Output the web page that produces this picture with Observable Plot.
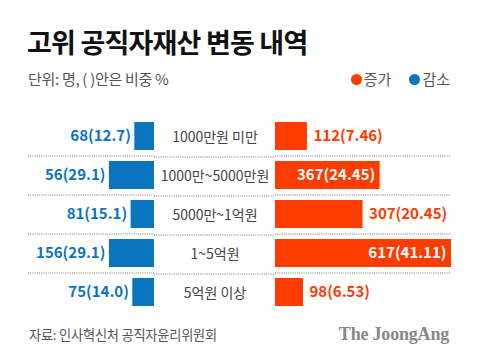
<!DOCTYPE html>
<html>
<head>
<meta charset="utf-8">
<script src="https://cdn.jsdelivr.net/npm/d3@7"></script>
<script src="https://cdn.jsdelivr.net/npm/@observablehq/plot@0.6"></script>
<style>
  html, body { margin: 0; padding: 0; background: #fff; }
  #wrap { position: relative; width: 480px; height: 364px; overflow: hidden; background: #fff; font-family: "Noto Sans CJK KR", "Noto Sans", sans-serif; }
  .abs { position: absolute; white-space: nowrap; }
  #title { left: 27px; top: 27px; font-size: 27px; line-height: 30px; font-weight: 700; color: #111; letter-spacing: -0.8px; }
  #sub { left: 28px; top: 69px; font-size: 15px; line-height: 20px; color: #555; letter-spacing: -0.3px; }
  #legend { right: 30px; top: 69px; font-size: 15px; line-height: 20px; color: #555; display: flex; align-items: center; }
  #legend .dot { width: 11px; height: 11px; border-radius: 50%; display: inline-block; margin-right: 2px; }
  #legend .item { display: flex; align-items: center; margin-left: 18px; }
  #source { left: 29px; top: 325px; font-size: 13.2px; line-height: 20px; color: #555; letter-spacing: -0.2px; }
  #brand { right: 31px; top: 323px; font-family: "Liberation Serif", "DejaVu Serif", serif; font-weight: 700; font-size: 18px; line-height: 22px; color: #888; letter-spacing: -0.2px; }
  #pl, #pm, #pr { position: absolute; top: 116.5px; }
  #pl { left: 0; } #pm { left: 154px; } #pr { left: 275px; }
  svg { overflow: visible; }
</style>
</head>
<body>
<div id="wrap">
  <div id="title" class="abs">고위 공직자재산 변동 내역</div>
  <div id="sub" class="abs">단위: 명, (&nbsp;)안은 비중 %</div>
  <div id="legend" class="abs"></div>
  <div id="pl"></div><div id="pm"></div><div id="pr"></div>
  <div id="source" class="abs">자료: 인사혁신처 공직자윤리위원회</div>
  <div id="brand" class="abs">The JoongAng</div>
</div>
<script>
const categories = ["1000만원 미만", "1000만~5000만원", "5000만~1억원", "1~5억원", "5억원 이상"];
const increaseCount = [112, 367, 307, 617, 98];
const increasePct = [7.46, 24.45, 20.45, 41.11, 6.53];
const decreaseCount = [68, 56, 81, 156, 75];
const decreasePct = [12.7, 29.1, 15.1, 29.1, 14.0];
const seriesNames = ["증가", "감소"];

const RED = "#ff3c00", BLUE = "#0a74be";
const rows = categories.map((c, i) => ({
  cat: c,
  inc: increasePct[i], incN: increaseCount[i],
  dec: decreasePct[i], decN: decreaseCount[i]
}));
const H = 195;
const yOpt = {domain: categories, paddingInner: 0.28, paddingOuter: 0.14, axis: null};
const sepCats = categories.slice(0, categories.length - 1);
const sep = () => Plot.ruleY(sepCats, {y: d => d, dy: 19.5, stroke: "#777", strokeDasharray: "1,1.2", strokeWidth: 1});
const fontFam = "'Noto Sans CJK KR', 'Noto Sans', sans-serif";

// legend
const lg = document.getElementById("legend");
[[seriesNames[0], RED], [seriesNames[1], BLUE]].forEach(([n, c]) => {
  const it = document.createElement("span");
  it.className = "item";
  it.innerHTML = `<span class="dot" style="background:${c}"></span>${n}`;
  lg.appendChild(it);
});

// left: decrease
const left = Plot.plot({
  width: 154, height: H, marginLeft: 28, marginRight: 0, marginTop: 0, marginBottom: 0,
  style: {fontFamily: fontFam, background: "transparent"},
  x: {domain: [0, 81.3], reverse: true, axis: null},
  y: yOpt,
  marks: [
    sep(),
    Plot.barX(rows, {x: "dec", y: "cat", fill: BLUE}),
    Plot.text(rows, {x: "dec", y: "cat", text: d => `${d.decN}(${d.dec.toFixed(1)})`, textAnchor: "end", dx: -4,
      fill: BLUE, fontWeight: 700, fontSize: 15, fontFamily: fontFam, letterSpacing: "-0.3px"})
  ]
});
document.getElementById("pl").appendChild(left);

// middle: labels
const mid = Plot.plot({
  width: 121, height: H, margin: 0,
  style: {fontFamily: fontFam, background: "transparent"},
  x: {axis: null},
  y: yOpt,
  marks: [
    sep(),
    Plot.text(rows, {y: "cat", text: "cat", fill: "#444", fontSize: 14, fontFamily: fontFam, letterSpacing: "-0.4px"})
  ]
});
document.getElementById("pm").appendChild(mid);

// right: increase
const inside = d => d.inc >= 22;
const right = Plot.plot({
  width: 205, height: H, marginLeft: 0, marginRight: 29, marginTop: 0, marginBottom: 0,
  style: {fontFamily: fontFam, background: "transparent"},
  x: {domain: [0, d3.max(increasePct)], axis: null},
  y: yOpt,
  marks: [
    sep(),
    Plot.barX(rows, {x: "inc", y: "cat", fill: RED}),
    Plot.text(rows.filter(d => !inside(d)), {x: "inc", y: "cat", text: d => `${d.incN}(${d.inc.toFixed(2)})`, textAnchor: "start", dx: 6,
      fill: RED, fontWeight: 700, fontSize: 15, fontFamily: fontFam, letterSpacing: "-0.3px"}),
    Plot.text(rows.filter(inside), {x: "inc", y: "cat", text: d => `${d.incN}(${d.inc.toFixed(2)})`, textAnchor: "end", dx: -5,
      fill: "#fff", fontWeight: 700, fontSize: 15, fontFamily: fontFam, letterSpacing: "-0.3px"})
  ]
});
document.getElementById("pr").appendChild(right);
</script>
</body>
</html>
